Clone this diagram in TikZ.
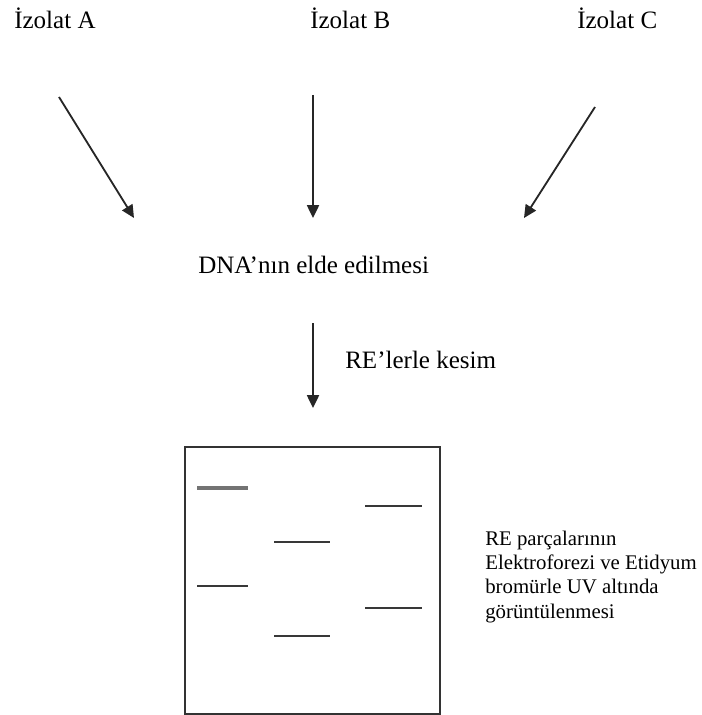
\documentclass[tikz,border=0pt]{standalone}
\usepackage{fontspec}
\setmainfont{Liberation Serif}
\usetikzlibrary{arrows.meta}

\tikzset{
    nhan/.style={inner sep=0pt, anchor=base west, font=\fontsize{17.8pt}{21pt}\selectfont},
    mui/.style={line width=1.3pt, draw=black!85, -{Triangle[length=0.32cm, width=0.3cm]}},
    vach/.style={line width=2pt, draw=black!78},
}

\begin{document}
\begin{tikzpicture}
        \useasboundingbox (0,0) rectangle (17.525,-17.875);
        % İzolatlar
        \node[nhan] (izA) at (0.35,-0.725) {İzolat A};
        \node[nhan] (izB) at (7.75,-0.725) {İzolat B};
        \node[nhan] (izC) at (14.425,-0.725) {İzolat C};
        % Oklar
        \coordinate (a1) at (1.475,-2.425);
        \coordinate (a2) at (3.35,-5.45);
        \coordinate (b1) at (7.825,-2.375);
        \coordinate (b2) at (7.825,-5.45);
        \coordinate (c1) at (14.875,-2.675);
        \coordinate (c2) at (13.1,-5.45);
        \draw[mui] (a1) -- (a2);
        \draw[mui] (b1) -- (b2);
        \draw[mui] (c1) -- (c2);
        % DNA
        \node[nhan] (dna) at (4.95,-6.825) {DNA’nın elde edilmesi};
        \coordinate (r1) at (7.825,-8.075);
        \coordinate (r2) at (7.825,-10.2);
        \draw[mui] (r1) -- (r2);
        \node[nhan] (kesim) at (8.625,-9.2) {RE’lerle kesim};
        % Jel
        \node[draw=black!80, line width=1.7pt, inner sep=0pt, anchor=north west,
              minimum width=6.375cm, minimum height=6.675cm] (jel) at (4.6,-11.15) {};
        \draw[vach, draw=black!55, line width=2.4pt] (4.925,-12.2) -- (6.2,-12.2);
        \draw[vach] (4.925,-14.65) -- (6.2,-14.65);
        \draw[vach] (6.85,-13.55) -- (8.25,-13.55);
        \draw[vach] (6.85,-15.9) -- (8.25,-15.9);
        \draw[vach] (9.125,-12.65) -- (10.55,-12.65);
        \draw[vach] (9.125,-15.2) -- (10.55,-15.2);
        % Açıklama
        \node[inner sep=0pt, anchor=base west, align=left,
              font=\fontsize{14.8pt}{17.2pt}\selectfont] (aciklama) at (12.125,-15.45)
              {RE parçalarının\\Elektroforezi ve Etidyum\\bromürle UV altında\\görüntülenmesi};
\end{tikzpicture}
\end{document}
